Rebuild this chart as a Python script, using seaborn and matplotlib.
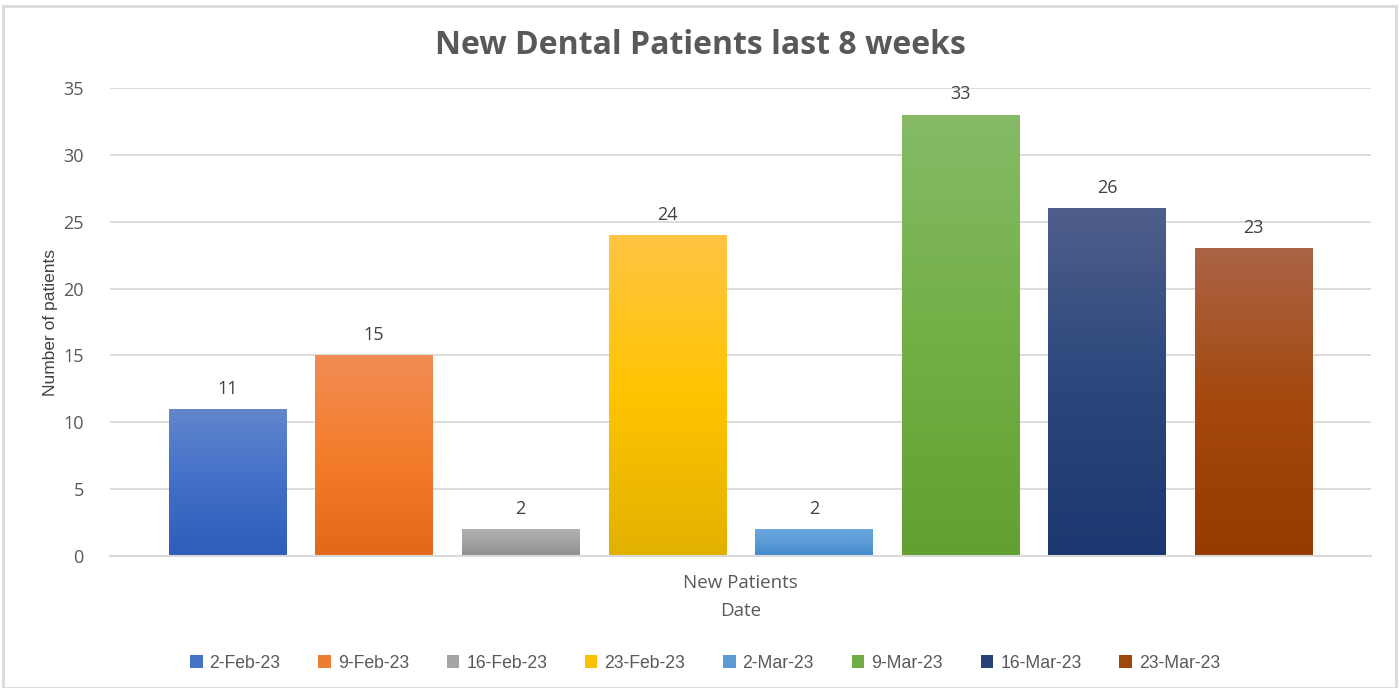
import numpy as np
import pandas as pd
import matplotlib
matplotlib.use("Agg")
import matplotlib.pyplot as plt
import seaborn as sns
from matplotlib.colors import LinearSegmentedColormap
from matplotlib.patches import Rectangle
from matplotlib import font_manager

# ---- data ----
category = ["New Patients"]
dates = ["2-Feb-23", "9-Feb-23", "16-Feb-23", "23-Feb-23",
         "2-Mar-23", "9-Mar-23", "16-Mar-23", "23-Mar-23"]
patients = [11, 15, 2, 24, 2, 33, 26, 23]
y_ticks = [0, 5, 10, 15, 20, 25, 30, 35]

# ---- styles ----
base_colors = ["#4472C4", "#ED7D31", "#A5A5A5", "#FFC000",
               "#5B9BD5", "#70AD47", "#264478", "#9E480E"]
grad_top = ["#6386CD", "#F08C55", "#B0B0B0", "#FFC544",
            "#6AA6DF", "#86BA67", "#4F5F8B", "#AB6446"]
grad_mid = ["#4270C8", "#F47D2A", "#A2A2A2", "#FFC400",
            "#5B9BD5", "#72B046", "#2B477D", "#A4480E"]
grad_bot = ["#2E5DBA", "#E2681A", "#8F8F8F", "#E2B100",
            "#4088CC", "#62A032", "#1B376F", "#963C00"]

names = {f.name for f in font_manager.fontManager.ttflist}
narrow = "Liberation Sans Narrow" if "Liberation Sans Narrow" in names else "Liberation Sans"
main_font = "Open Sans"

df = pd.DataFrame({"cat": category * len(dates), "Date": dates, "val": patients})

sns.set_theme(style="white")
plt.rcParams["font.family"] = [main_font, "DejaVu Sans"]

fig = plt.figure(figsize=(13.99, 6.88), dpi=100)
ax = fig.add_axes([110 / 1399, 1 - 556 / 688, (1371 - 110) / 1399, (556 - 88) / 688])

sns.barplot(data=df, x="cat", y="val", hue="Date", hue_order=dates,
            palette=base_colors, width=0.93, gap=0.2, ax=ax,
            saturation=1, edgecolor="none", linewidth=0, legend=True)

ax.set_ylim(0, 35)
ax.set_xlim(-0.5, 0.5)
ax.set_yticks(y_ticks)
ax.set_yticklabels([str(t) for t in y_ticks], fontsize=13, color="#595959")
ax.tick_params(axis="y", length=0, pad=19)
ax.tick_params(axis="x", length=0, pad=13)
ax.set_xticks([0])
ax.set_xticklabels(category, fontsize=13.5, color="#595959")
ax.yaxis.grid(True, color="#D9D9D9", linewidth=1.3)
ax.set_axisbelow(True)
for s in ["left", "right", "top"]:
    ax.spines[s].set_visible(False)
ax.spines["bottom"].set_color("#D9D9D9")
ax.spines["bottom"].set_linewidth(1.5)

ax.set_xlabel("Date", fontsize=13.5, color="#595959", labelpad=7)
ax.set_ylabel("Number of patients", fontsize=12.5, color="#404040",
              family=[narrow, "DejaVu Sans"], labelpad=4)

# gradient fill per bar
grad = np.linspace(0, 1, 256).reshape(-1, 1)
for i, patch in enumerate(ax.patches[:len(dates)]):
    x0, y0 = patch.get_x(), patch.get_y()
    w, h = patch.get_width(), patch.get_height()
    cmap = LinearSegmentedColormap.from_list(
        f"g{i}", [(0, grad_bot[i]), (0.5, grad_mid[i]), (1, grad_top[i])])
    im = ax.imshow(grad, cmap=cmap, aspect="auto", origin="lower",
                   extent=[x0, x0 + w, y0, y0 + h], zorder=patch.get_zorder() + 0.1)
    im.set_clip_path(patch)
    ax.text(x0 + w / 2, y0 + h + 0.85, f"{patients[i]}", ha="center", va="bottom",
            fontsize=13, color="#404040")
ax.set_xlim(-0.5, 0.5)
ax.set_ylim(0, 35)

# legend
handles, labels = ax.get_legend_handles_labels()
ax.get_legend().remove()
leg = fig.legend(handles, labels, loc="center", bbox_to_anchor=(705 / 1399, 1 - 663 / 688),
                 ncol=8, frameon=False, handlelength=0.7, handleheight=0.7,
                 handletextpad=0.4, columnspacing=2.15,
                 prop={"family": [narrow, "DejaVu Sans"], "size": 12.7})
for t in leg.get_texts():
    t.set_color("#595959")

fig.text(700 / 1399, 1 - 45 / 688, "New Dental Patients last 8 weeks", ha="center",
         va="center", fontsize=23, fontweight="bold", color="#595959")

# chart border
fig.patches.append(Rectangle((3 / 1399, 0), 1393 / 1399, 1 - 6 / 688,
                             transform=fig.transFigure, fill=False,
                             edgecolor="#D9D9D9", linewidth=2))

fig.savefig("out.png", dpi=100)
